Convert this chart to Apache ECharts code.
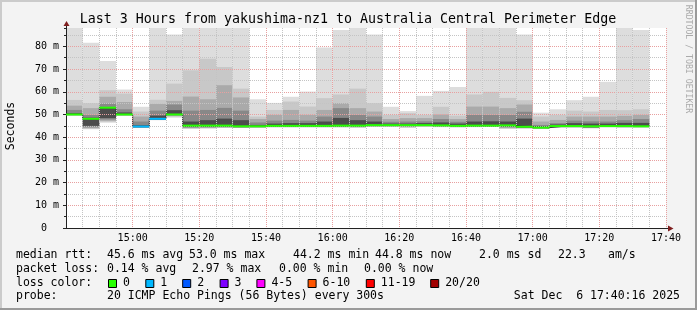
<!DOCTYPE html>
<html><head><meta charset="utf-8">
<script src="https://cdn.jsdelivr.net/npm/echarts@6/dist/echarts.min.js"></script>
<style>html,body{margin:0;padding:0;background:#f3f3f3}#c{width:697px;height:310px}</style>
</head><body><div id="c"></div>
<script>
// ---- data ----
const axisStart = '14:40', axisEnd = '17:40';
const slots = ['14:40','14:45','14:50','14:55','15:00','15:05','15:10','15:15','15:20','15:25','15:30','15:35','15:40','15:45','15:50','15:55','16:00','16:05','16:10','16:15','16:20','16:25','16:30','16:35','16:40','16:45','16:50','16:55','17:00','17:05','17:10','17:15','17:20','17:25','17:30'];
const pMax = [88.1,81.6,73.6,61.0,53.4,88.1,85.2,88.1,88.1,88.1,88.1,56.7,55.1,57.8,60.1,79.5,87.2,88.1,85.2,53.4,51.5,58.2,60.4,62.1,88.1,88.1,88.1,85.2,50.8,52.3,56.3,57.8,64.4,88.1,87.2];
const hi2 = [56.4,55.0,60.7,59.2,51.3,56.5,63.6,69.5,74.6,70.9,61.4,49.1,52.0,55.7,53.5,57.2,58.8,61.4,55.0,49.8,50.6,49.8,53.4,49.5,58.8,60.0,57.3,56.3,49.1,49.8,51.7,51.3,52.0,51.9,52.3];
const hi3 = [53.9,52.8,57.8,55.5,49.1,54.6,56.0,57.9,56.7,62.9,57.5,48.0,49.8,52.0,49.8,52.0,55.0,52.8,51.3,48.0,48.4,48.4,50.0,48.0,53.5,53.5,52.8,54.4,46.9,47.6,49.1,49.1,49.1,49.4,49.8];
const hi4 = [52.0,49.8,54.8,52.3,46.9,51.7,54.4,51.7,52.0,52.9,51.7,46.5,47.3,47.6,47.3,49.1,52.8,49.8,49.1,46.8,46.9,47.0,48.0,46.8,49.8,49.8,49.8,51.2,45.4,46.2,47.3,47.0,46.9,47.5,48.0];
const hi5 = [50.6,48.6,53.2,50.9,45.3,49.5,51.9,46.9,47.5,48.2,47.5,45.4,46.0,46.2,46.2,46.9,48.5,47.5,46.9,46.0,46.0,46.2,46.5,46.0,46.9,47.0,46.9,48.2,44.8,45.6,46.2,46.0,46.0,46.3,46.3];
const median = [50.0,48.1,53.0,50.0,44.7,48.1,50.0,45.1,45.1,45.1,44.8,44.8,45.0,45.0,45.0,45.0,45.1,45.1,45.3,45.3,45.3,45.3,45.2,45.0,45.1,45.1,45.2,44.6,44.2,44.9,44.9,44.8,44.9,44.9,44.8];
const lo5 = [49.8,45.0,48.4,49.8,44.4,47.8,49.8,44.6,44.6,44.7,44.5,44.5,44.7,44.7,44.7,44.7,44.8,44.8,45.0,45.0,45.0,45.0,44.9,44.7,44.8,44.8,44.7,44.3,44.0,44.6,44.6,44.4,44.7,44.6,44.6];
const lo4 = [49.7,44.4,47.8,49.7,44.3,47.7,49.6,44.3,44.4,44.5,44.3,44.4,44.6,44.6,44.6,44.6,44.6,44.6,44.8,44.8,44.7,44.9,44.7,44.6,44.7,44.7,44.4,44.1,43.9,44.5,44.5,44.2,44.6,44.5,44.5];
const lo3 = [49.7,44.0,47.2,49.6,44.3,47.6,49.4,44.0,44.1,44.3,44.2,44.3,44.5,44.5,44.5,44.5,44.5,44.4,44.7,44.7,44.5,44.8,44.6,44.5,44.6,44.6,44.1,44.0,43.9,44.4,44.4,44.1,44.5,44.4,44.4];
const lo2 = [49.6,43.7,46.8,49.6,44.2,47.6,49.0,43.8,43.9,44.1,44.1,44.3,44.4,44.4,44.4,44.4,44.4,44.3,44.6,44.6,44.2,44.7,44.5,44.4,44.5,44.5,43.8,43.9,43.8,44.3,44.3,44.0,44.4,44.3,44.3];
const pMin = [49.6,43.5,46.4,49.5,44.2,47.5,48.6,43.7,43.8,44.0,44.0,44.2,44.3,44.3,44.3,44.3,44.3,44.2,44.5,44.5,44.1,44.6,44.4,44.3,44.4,44.5,43.6,43.8,43.8,44.3,44.3,43.9,44.4,44.3,44.3];
const lossIdx = [0,0,0,0,1,1,0,0,0,0,0,0,0,0,0,0,0,0,0,0,0,0,0,0,0,0,0,0,0,0,0,0,0,0,0];
const stepMinutes = 5;
const yMax = 88.1;
const lossColors = ['#26ff00','#00b8ff','#0059ff','#7e00ff','#ff00ff','#ff5500','#ff0000','#a10000'];
const lossLabels = ['0','1','2','3','4-5','6-10','11-19','20/20'];
const titleText = 'Last 3 Hours from yakushima-nz1 to Australia Central Perimeter Edge';
const yName = 'Seconds';
const rttStats = ['45.6 ms avg','53.0 ms max','44.2 ms min','44.8 ms now','2.0 ms sd','22.3','am/s'];
const lossStats = ['0.14 % avg','2.97 % max','0.00 % min','0.00 % now'];
const probeText = '20 ICMP Echo Pings (56 Bytes) every 300s';
const stampText = 'Sat Dec  6 17:40:16 2025';

// ---- helpers ----
const toMin = s => { const [h,m] = s.split(':').map(Number); return h*60+m; };
const t0 = toMin(axisStart), tEnd = toMin(axisEnd) - t0;
const fmtTime = v => { const t = t0 + v; const h = Math.floor(t/60), m = t%60; return h + ':' + (m<10?'0':'') + m; };
const MAJ = '#e8a0a0', MIN = '#c4c4c4';
const MONO = '"DejaVu Sans Mono", monospace';
const bandColors = ['#dddddd','#c8c8c8','#aaaaaa','#888888','#4c4c4c'];

const smokeData = slots.map((s,i) => {
  const a = toMin(s) - t0;
  return [a, a+stepMinutes, pMax[i], hi2[i], hi3[i], hi4[i], hi5[i], lo5[i], lo4[i], lo3[i], lo2[i], pMin[i]];
});
const medData = slots.map((s,i) => { const a = toMin(s)-t0; return [a, a+stepMinutes, median[i], lossIdx[i]]; });
const stepData = slots.map((s,i) => [toMin(s)-t0, median[i]]);
stepData.push([toMin(slots[slots.length-1])-t0+stepMinutes, median[median.length-1]]);

const chart = echarts.init(document.getElementById('c'), null, {renderer:'canvas'});

const graphics = [];
graphics.push({type:'rect', z:20, shape:{x:0,y:0,width:697,height:2}, style:{fill:'#cbcbcb'}});
graphics.push({type:'rect', z:20, shape:{x:0,y:0,width:2,height:310}, style:{fill:'#cbcbcb'}});
graphics.push({type:'rect', z:20, shape:{x:0,y:308,width:697,height:2}, style:{fill:'#9a9a9a'}});
graphics.push({type:'rect', z:20, shape:{x:695,y:0,width:2,height:310}, style:{fill:'#9a9a9a'}});
graphics.push({type:'text', z:20, x:348, y:20, style:{text:titleText, font:'13.3px '+MONO, fill:'#000', align:'center', verticalAlign:'middle'}});
graphics.push({type:'text', z:20, x:11, y:126, rotation:Math.PI/2, style:{text:yName, font:'11.5px '+MONO, fill:'#000', align:'center', verticalAlign:'middle'}});
graphics.push({type:'text', z:20, x:688, y:59, rotation:-Math.PI/2, style:{text:'RRDTOOL / TOBI OETIKER', font:'8.2px '+MONO, fill:'#aaaaaa', align:'center', verticalAlign:'middle'}});
graphics.push({type:'line', z:20, shape:{x1:66.5,y1:28,x2:66.5,y2:24}, style:{stroke:'#222', lineWidth:1}});
graphics.push({type:'polygon', z:20, shape:{points:[[63.5,26],[69.5,26],[66.5,21]]}, style:{fill:'#7f1f1f'}});
graphics.push({type:'line', z:20, shape:{x1:666,y1:228.5,x2:669,y2:228.5}, style:{stroke:'#222', lineWidth:1}});
graphics.push({type:'polygon', z:20, shape:{points:[[668,225.5],[668,231.5],[673.5,228.5]]}, style:{fill:'#7f1f1f'}});
const F = '11.5px '+MONO;
const txt = (x,y,t) => graphics.push({type:'text', z:20, x:x, y:y, style:{text:t, font:F, fill:'#000', align:'left', verticalAlign:'middle'}});
const r1 = 255, r2 = 269, r3 = 283, r4 = 296.5;
txt(16,r1,'median rtt:');
[107,189,293,375,479,558,608].forEach((x,i)=>txt(x,r1,rttStats[i]));
txt(16,r2,'packet loss:');
[107,192,279,364].forEach((x,i)=>txt(x,r2,lossStats[i]));
txt(16,r3,'loss color:');
const boxX = [108,145.3,182.2,219.6,256.4,307.6,365.8,430.2];
boxX.forEach((x,i)=>{
  graphics.push({type:'rect', z:20, shape:{x:x+0.5,y:279.5,width:8,height:8}, style:{fill:lossColors[i], stroke:'#000', lineWidth:1}});
  txt(x+15,r3,lossLabels[i]);
});
txt(16,r4,'probe:');
txt(107,r4,probeText);
graphics.push({type:'text', z:20, x:680, y:r4, style:{text:stampText, font:F, fill:'#000', align:'right', verticalAlign:'middle'}});

chart.setOption({
  animation:false,
  backgroundColor:'#f3f3f3',
  grid:{left:66, top:28, width:600, height:200, show:true, backgroundColor:'#ffffff', borderWidth:0},
  xAxis:{type:'value', min:0, max:tEnd, interval:20, z:5,
    axisLine:{show:true, onZero:false, lineStyle:{color:'#222', width:1}},
    axisTick:{show:false},
    minorTick:{show:false, splitNumber:4},
    axisLabel:{margin:5, fontFamily:'DejaVu Sans Mono', fontSize:10, color:'#000', showMinLabel:false,
      formatter:v => v>0 ? fmtTime(v) : ''},
    splitLine:{show:true, showMinLine:false, lineStyle:{color:MAJ, type:[1,1], width:1}},
    minorSplitLine:{show:true, lineStyle:{color:MIN, type:[1,1], width:1}}
  },
  yAxis:[
    {type:'value', min:0, max:yMax, interval:5, z:4, position:'left', offset:0,
      axisLine:{show:false, onZero:false}, axisTick:{show:true, length:2, lineStyle:{color:'#222'}}, axisLabel:{show:false},
      splitLine:{show:true, showMinLine:false, showMaxLine:false, lineStyle:{color:MIN, type:[1,1], width:1}}
    },
    {type:'value', min:0, max:yMax, interval:10, z:5, position:'left', offset:0,
      axisLine:{show:true, onZero:false, lineStyle:{color:'#222', width:1}},
      axisTick:{show:true, length:3, lineStyle:{color:'#222'}},
      axisLabel:{margin:7, fontFamily:'DejaVu Sans Mono', fontSize:10, color:'#000', showMaxLabel:false,
        formatter:v => (v%10===0) ? (v===0 ? '0  ' : v+' m') : ''},
      splitLine:{show:true, showMinLine:false, showMaxLine:false, lineStyle:{color:MAJ, type:[1,1], width:1}}
    }
  ],
  graphic:graphics,
  series:[
    {type:'custom', z:2, data:smokeData, silent:true,
      renderItem:(params, api) => {
        const cs = params.coordSys;
        const x0 = api.value(0), x1 = api.value(1);
        const children = [];
        for (let k=0;k<5;k++){
          const p1 = api.coord([x0, api.value(2+k)]);
          const p2 = api.coord([x1, api.value(11-k)]);
          const shape = echarts.graphic.clipRectByRect({x:p1[0], y:p1[1], width:p2[0]-p1[0], height:p2[1]-p1[1]}, {x:cs.x,y:cs.y,width:cs.width,height:cs.height});
          if (shape) children.push({type:'rect', shape:shape, style:{fill:bandColors[k]}});
        }
        return {type:'group', children:children};
      }},
    {type:'line', z:3, data:stepData, step:'end', symbol:'none', silent:true,
      lineStyle:{color:'#333', width:1}},
    {type:'custom', z:6, data:medData, silent:true,
      renderItem:(params, api) => {
        const p1 = api.coord([api.value(0), api.value(2)]);
        const p2 = api.coord([api.value(1), api.value(2)]);
        return {type:'rect', shape:{x:p1[0], y:p1[1]-1, width:p2[0]-p1[0], height:2}, style:{fill:lossColors[api.value(3)]}};
      }}
  ]
});
</script></body></html>
